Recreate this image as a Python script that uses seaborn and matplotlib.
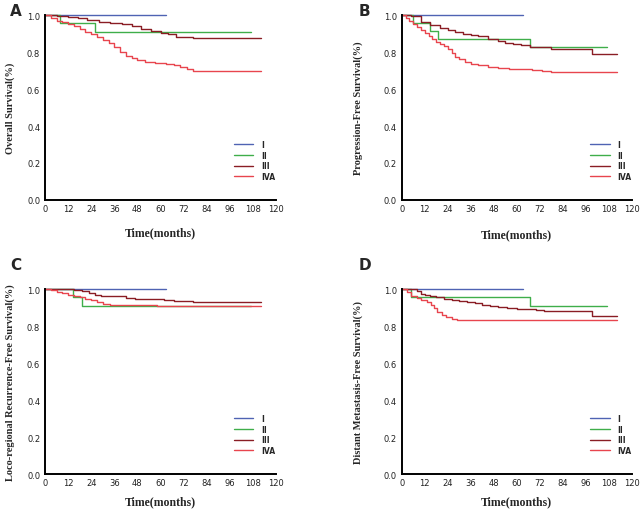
import numpy as np
import pandas as pd
import seaborn as sns
import matplotlib.pyplot as plt

stages = ["I", "II", "III", "IVA"]
colors = {"I": "#4f63b3", "II": "#3fae4a", "III": "#8a1d24", "IVA": "#e8454e"}

# Overall survival
os_I_t = [0, 63]
os_I_s = [1.0, 1.0]
os_II_t = [0, 8, 26, 107]
os_II_s = [1.0, 0.955, 0.91, 0.91]
os_III_t = [0, 6, 12, 17, 22, 28, 34, 40, 45, 50, 55, 60, 64, 68, 77, 112]
os_III_s = [1.0, 0.993, 0.987, 0.982, 0.975, 0.964, 0.957, 0.95, 0.94, 0.925, 0.915, 0.905, 0.897, 0.883, 0.874, 0.874]
os_IVA_t = [0, 3, 6, 9, 12, 15, 18, 21, 24, 27, 30, 33, 36, 39, 42, 45, 48, 52, 57, 63, 67, 70, 74, 77, 112]
os_IVA_s = [1.0, 0.985, 0.97, 0.96, 0.95, 0.94, 0.925, 0.91, 0.895, 0.88, 0.865, 0.85, 0.825, 0.8, 0.78,
            0.765, 0.755, 0.748, 0.74, 0.734, 0.728, 0.72, 0.71, 0.70, 0.70]

# Progression-free survival
pfs_I_t = [0, 63]
pfs_I_s = [1.0, 1.0]
pfs_II_t = [0, 5.7, 14.8, 18.8, 67, 107]
pfs_II_s = [1.0, 0.955, 0.912, 0.87, 0.826, 0.826]
pfs_III_t = [0, 5, 10, 15, 20, 24, 28, 32, 36, 40, 45, 50, 54, 58, 62, 67, 72, 78, 99, 112]
pfs_III_s = [1.0, 0.995, 0.96, 0.946, 0.932, 0.92, 0.91, 0.898, 0.892, 0.884, 0.87, 0.858, 0.85, 0.843,
             0.836, 0.829, 0.825, 0.817, 0.79, 0.79]
pfs_IVA_t = [0, 2, 4, 6, 8, 10, 12, 14, 16, 18, 20, 22, 24, 26, 28, 30, 33, 36, 40, 45, 50, 56, 62, 68, 73, 78, 112]
pfs_IVA_s = [1.0, 0.985, 0.965, 0.95, 0.935, 0.92, 0.905, 0.888, 0.872, 0.855, 0.845, 0.835, 0.815, 0.795,
             0.775, 0.76, 0.745, 0.735, 0.728, 0.718, 0.712, 0.709, 0.706, 0.703, 0.70, 0.694, 0.694]

# Loco-regional recurrence-free survival
lrrfs_I_t = [0, 63]
lrrfs_I_s = [1.0, 1.0]
lrrfs_II_t = [0, 14.7, 19, 107]
lrrfs_II_s = [1.0, 0.955, 0.91, 0.91]
lrrfs_III_t = [0, 10, 15, 19, 23, 26, 29, 36, 42, 47, 55, 62, 67, 73, 77, 112]
lrrfs_III_s = [1.0, 0.998, 0.993, 0.987, 0.977, 0.97, 0.962, 0.96, 0.951, 0.948, 0.944, 0.94, 0.937, 0.933, 0.928, 0.928]
lrrfs_IVA_t = [0, 3, 6, 9, 12, 15, 18, 21, 24, 27, 30, 34, 46, 58, 112]
lrrfs_IVA_s = [1.0, 0.995, 0.985, 0.978, 0.97, 0.962, 0.955, 0.948, 0.94, 0.93, 0.92, 0.915, 0.912, 0.906, 0.906]

# Distant metastasis-free survival
dmfs_I_t = [0, 63]
dmfs_I_s = [1.0, 1.0]
dmfs_II_t = [0, 5, 67, 107]
dmfs_II_s = [1.0, 0.955, 0.91, 0.91]
dmfs_III_t = [0, 8, 10, 12, 15, 18, 22, 26, 30, 34, 38, 42, 46, 50, 55, 60, 66, 70, 74, 99, 112]
dmfs_III_s = [1.0, 0.987, 0.975, 0.969, 0.962, 0.955, 0.946, 0.942, 0.937, 0.928, 0.922, 0.914, 0.908, 0.903,
              0.897, 0.894, 0.89, 0.885, 0.88, 0.856, 0.856]
dmfs_IVA_t = [0, 3, 5, 8, 10, 13, 15.5, 17, 18.5, 21, 23, 26, 29, 112]
dmfs_IVA_s = [1.0, 0.982, 0.96, 0.952, 0.942, 0.93, 0.914, 0.895, 0.874, 0.862, 0.85, 0.838, 0.83, 0.83]

panels = [
    ("A", "Overall Survival(%)",
     [(os_I_t, os_I_s), (os_II_t, os_II_s), (os_III_t, os_III_s), (os_IVA_t, os_IVA_s)],
     [0.0701, 0.6059, 0.3598, 0.3627], (-0.152, -0.173), (10, 12)),
    ("B", "Progression-Free Survival(%)",
     [(pfs_I_t, pfs_I_s), (pfs_II_t, pfs_II_s), (pfs_III_t, pfs_III_s), (pfs_IVA_t, pfs_IVA_s)],
     [0.6257, 0.6059, 0.3588, 0.3627], (-0.187, -0.185), (359, 12)),
    ("C", "Loco-regional Recurrence-Free Survival(%)",
     [(lrrfs_I_t, lrrfs_I_s), (lrrfs_II_t, lrrfs_II_s), (lrrfs_III_t, lrrfs_III_s), (lrrfs_IVA_t, lrrfs_IVA_s)],
     [0.0701, 0.0686, 0.3598, 0.3627], (-0.152, -0.146), (10, 266)),
    ("D", "Distant Metastasis-Free Survival(%)",
     [(dmfs_I_t, dmfs_I_s), (dmfs_II_t, dmfs_II_s), (dmfs_III_t, dmfs_III_s), (dmfs_IVA_t, dmfs_IVA_s)],
     [0.6257, 0.0686, 0.3588, 0.3627], (-0.187, -0.146), (359, 266)),
]

sns.set_style("white")
W, H = 642, 510
fig = plt.figure(figsize=(W / 100, H / 100), dpi=100)

for letter, ylabel, curves, rect, (ylx, xly), (lx, ly) in panels:
    ax = fig.add_axes(rect)
    rows = []
    for stage, (t, s) in zip(stages, curves):
        rows.append(pd.DataFrame({"time": t, "surv": s, "Stage": stage}))
    df = pd.concat(rows, ignore_index=True)
    sns.lineplot(data=df, x="time", y="surv", hue="Stage", hue_order=stages, palette=colors,
                 drawstyle="steps-post", estimator=None, linewidth=1.0, ax=ax, clip_on=False)

    ax.set_xlim(0, 120)
    ax.set_ylim(0, 1.0)
    ax.set_xticks(np.arange(0, 121, 12))
    ax.set_yticks(np.arange(0, 1.01, 0.2))
    ax.set_yticklabels([f"{v:.1f}" for v in np.arange(0, 1.01, 0.2)])
    for side in ["top", "right"]:
        ax.spines[side].set_visible(False)
    for side in ["left", "bottom"]:
        ax.spines[side].set_linewidth(1.4)
        ax.spines[side].set_color("black")
    ax.tick_params(axis="x", direction="inout", length=4, width=0.9, labelsize=6, pad=1, colors="#222222")
    ax.tick_params(axis="y", direction="out", length=2.5, width=0.9, labelsize=6, pad=1, colors="#222222")

    ax.set_ylabel(ylabel, family="Liberation Serif", fontweight="bold", fontsize=7.5)
    ax.set_xlabel("Time(months)", family="Liberation Serif", fontweight="bold", fontsize=8.5)
    ax.yaxis.set_label_coords(ylx, 0.5)
    ax.xaxis.set_label_coords(0.5, xly)
    ax.yaxis.label.set_verticalalignment("center")
    ax.xaxis.label.set_verticalalignment("center")

    handles, labels = ax.get_legend_handles_labels()
    ax.legend(handles, labels, loc="upper left", bbox_to_anchor=(0.8, 0.345), frameon=False,
              borderpad=0, handlelength=2.6, handletextpad=1.0, labelspacing=0.22,
              prop={"family": "DejaVu Sans", "weight": "bold", "size": 5.5})

    fig.text(lx / W, 1 - ly / H, letter, fontsize=11, fontweight="bold", family="DejaVu Sans",
             ha="left", va="center")

fig.savefig("out.png", dpi=100)
